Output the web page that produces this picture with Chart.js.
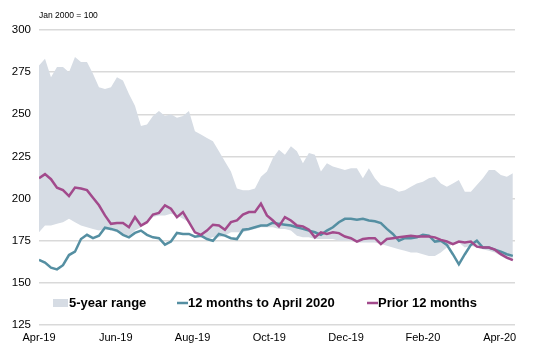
<!DOCTYPE html>
<html>
<head>
<meta charset="utf-8">
<script src="https://cdn.jsdelivr.net/npm/chart.js@4/dist/chart.umd.min.js"></script>
<style>
  html, body { margin: 0; padding: 0; background: #fff; }
  #wrap { width: 533px; height: 348px; }
</style>
</head>
<body>
<div id="wrap"><canvas id="chart" width="533" height="348"></canvas></div>
<script>
// tick labels on the x axis (every 2 months)
const monthLabels = ["Apr-19", "Jun-19", "Aug-19", "Oct-19", "Dec-19", "Feb-20", "Apr-20"];
const yTicks = [125, 150, 175, 200, 225, 250, 275, 300];

// 5-year range, high side and low side
const rangeHigh = [279, 283, 272, 278, 278, 275, 284, 281, 281, 274,
  266, 265, 266, 272, 270, 262, 255, 243, 244, 249,
  252, 249, 250, 248, 249, 252, 240, 238, 236, 234,
  228, 222, 216, 206, 205, 205, 206, 213, 216, 224,
  229, 226, 231, 228, 221, 227, 226, 216, 221, 219,
  218, 217, 218, 218, 212, 218, 212, 208, 207, 206,
  204, 205, 207, 209, 210, 212, 213, 209, 207, 209,
  211, 204, 204, 208, 212, 217, 217, 214, 213, 215];
const rangeLow = [180, 184, 184, 185, 186, 188, 186, 184, 183, 182,
  181, 182, 181, 180, 179, 178, 181, 183, 186, 189,
  190, 190, 191, 190, 188, 186, 180, 177, 176, 177,
  177, 178, 180, 180, 180, 181, 182, 183, 183, 183,
  182, 182, 181, 178, 177, 177, 176, 176, 176, 176,
  175, 175, 175, 174, 174, 174, 174, 173, 172, 171,
  170, 169, 168, 168, 167, 166, 166, 168, 171, 173,
  174, 171, 172, 171, 170, 169, 168, 166, 164, 163];

// 12 months to April 2020
const current = [163.7, 162, 159, 158, 160.5, 166.5, 168.5, 176, 178.5, 176.5,
  178, 182.7, 182, 181, 178.5, 177, 179.6, 181, 178.5, 177,
  176.5, 172.7, 174.5, 179.6, 179, 179, 177.4, 178, 176, 175,
  179, 178, 176.5, 176, 181.5, 182, 183, 184, 184, 185.7,
  185, 184.5, 184, 183, 182, 181, 180, 178.5, 181, 183,
  186, 188, 188, 187.5, 188, 187, 186.5, 185.5, 182, 179,
  175, 176.5, 176.5, 177, 178.5, 178, 174.5, 175, 172.5, 167,
  161, 167, 172.5, 175, 171, 171, 169.7, 168.5, 167, 166];

// Prior 12 months
const prior = [212, 214.5, 211.5, 206.5, 205, 201.5, 206.5, 206, 205, 200.5,
  196, 190, 185, 185.5, 185.5, 183, 189, 184, 186, 190.5,
  191.5, 196, 194, 189, 192, 186, 180, 178.5, 181, 184.5,
  184, 181.5, 186, 187, 190.5, 192, 192, 197, 190, 187,
  183.5, 189, 187, 184, 183.5, 181.5, 177, 180, 179, 180,
  179.5, 177.5, 176.5, 174.5, 176, 176.5, 176.5, 173, 176, 176.5,
  177, 177.5, 178, 177.5, 177.5, 177.5, 177, 175.5, 174.5, 173,
  174.5, 174, 174.5, 171.5, 171, 171, 169.7, 167, 165, 163.5];

// roughly weekly samples, x in months from Apr-19
const xs = current.map((_, i) => i * 0.15625);
const pts = (arr) => arr.map((v, i) => ({ x: xs[i], y: v }));

const bandColor = "#d6dce4";
const tealColor = "#558fa2";
const purpleColor = "#a24a8c";
const fontFamily = "Arial, 'Liberation Sans', sans-serif";

// legend drawn inside the plot, above the 125 line
const insideLegend = {
  id: "insideLegend",
  afterDraw(chart) {
    const c = chart.ctx;
    const y = 303;
    c.save();
    c.font = "bold 13px " + fontFamily;
    c.textBaseline = "middle";
    // band swatch
    c.fillStyle = bandColor;
    c.fillRect(53, 299, 15, 8);
    c.fillStyle = "#000";
    c.fillText(chart.data.datasets[1].label, 69, y);
    // line swatches
    const items = [
      { x: 177, color: tealColor, text: chart.data.datasets[2].label },
      { x: 367, color: purpleColor, text: chart.data.datasets[3].label },
    ];
    items.forEach((it) => {
      c.strokeStyle = it.color;
      c.lineWidth = 2.5;
      c.beginPath();
      c.moveTo(it.x, y);
      c.lineTo(it.x + 11, y);
      c.stroke();
      c.fillStyle = "#000";
      c.fillText(it.text, it.x + 11, y);
    });
    // small note at the top left
    c.font = "8.5px " + fontFamily;
    c.fillText("Jan 2000 = 100", chart.chartArea.left, 15.5);
    c.restore();
  },
};

const chart = new Chart(document.getElementById("chart").getContext("2d"), {
  type: "line",
  data: {
    datasets: [
      {
        label: "5-year low",
        data: pts(rangeLow),
        borderWidth: 0,
        borderColor: "transparent",
        pointRadius: 0,
        fill: false,
        order: 3,
      },
      {
        label: "5-year range",
        data: pts(rangeHigh),
        borderWidth: 0,
        borderColor: "transparent",
        backgroundColor: bandColor,
        pointRadius: 0,
        fill: "-1",
        order: 3,
      },
      {
        label: "12 months to April 2020",
        data: pts(current),
        borderColor: tealColor,
        borderWidth: 2.5,
        pointRadius: 0,
        tension: 0,
        fill: false,
        order: 1,
      },
      {
        label: "Prior 12 months",
        data: pts(prior),
        borderColor: purpleColor,
        borderWidth: 2.5,
        pointRadius: 0,
        tension: 0,
        fill: false,
        order: 0,
      },
    ],
  },
  options: {
    responsive: false,
    animation: false,
    layout: { padding: { top: 30, right: 18, bottom: 0, left: 0 } },
    plugins: {
      legend: { display: false },
      tooltip: { enabled: false },
    },
    scales: {
      x: {
        type: "linear",
        min: 0,
        max: 12.4,
        grid: { display: false, drawTicks: false },
        border: { display: false },
        afterBuildTicks: (scale) => {
          scale.ticks = monthLabels.map((_, i) => ({ value: i * 2 }));
        },
        afterFit: (scale) => { scale.height = 23; },
        ticks: {
          autoSkip: false,
          maxRotation: 0,
          padding: 6,
          color: "#000",
          font: { family: fontFamily, size: 11 },
          callback: (v) => monthLabels[Math.round(v / 2)],
        },
      },
      y: {
        min: 125,
        max: 300,
        afterBuildTicks: (scale) => {
          scale.ticks = yTicks.map((v) => ({ value: v }));
        },
        afterFit: (scale) => { scale.width = 39; },
        grid: { color: "#d9d9d9", lineWidth: 1.5, drawTicks: false },
        border: { display: false },
        ticks: {
          padding: 8,
          color: "#000",
          font: { family: fontFamily, size: 11.5 },
        },
      },
    },
  },
  plugins: [insideLegend],
});
</script>
</body>
</html>
